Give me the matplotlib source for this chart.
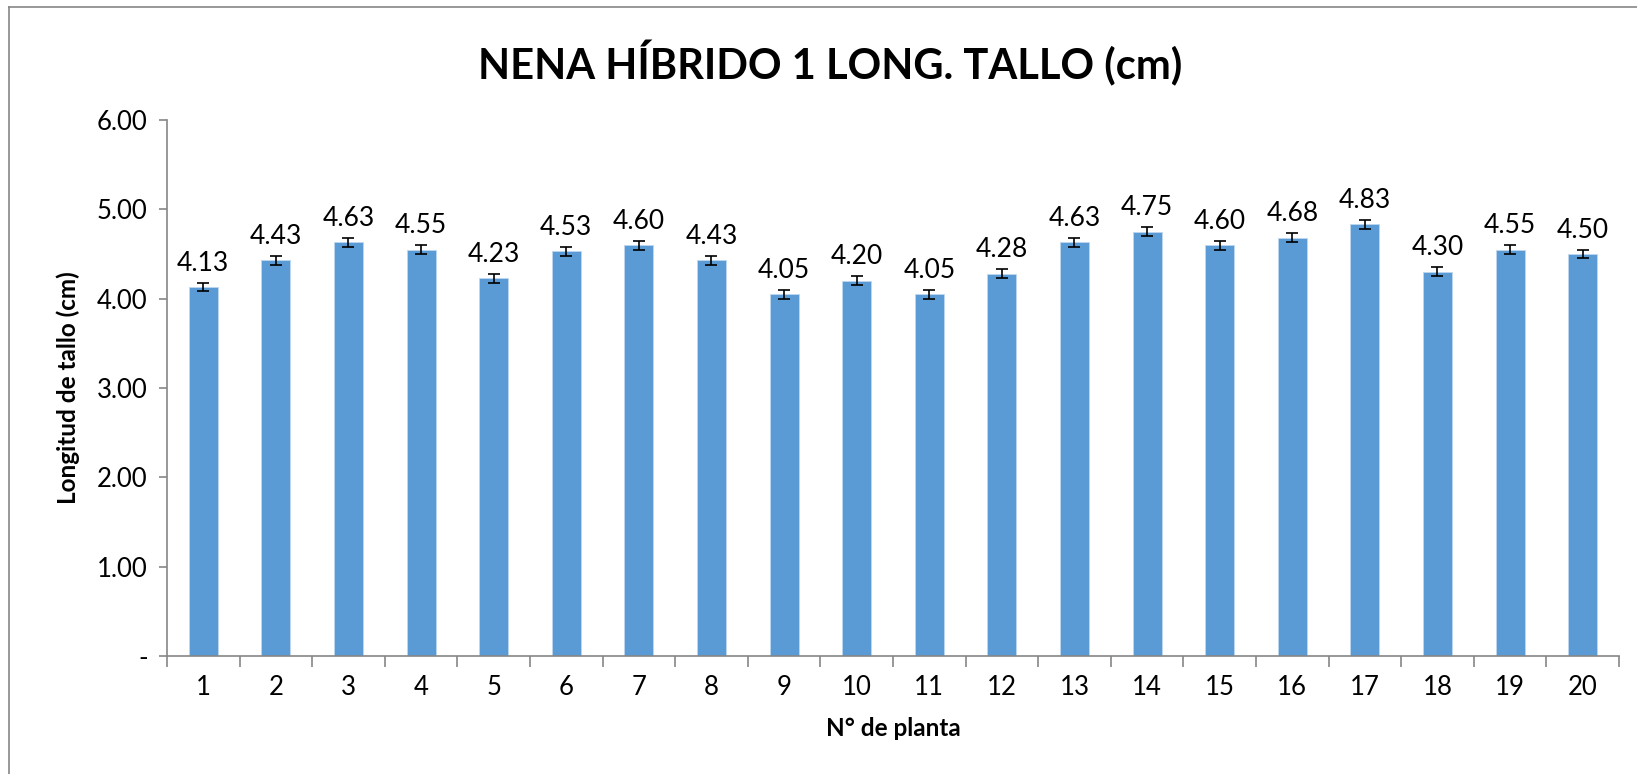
import numpy as np
import matplotlib.pyplot as plt
from matplotlib.lines import Line2D

plt.rcParams['font.family'] = ['Lato', 'DejaVu Sans']

plantas = [str(i) for i in range(1, 21)]
longitud = [4.13, 4.43, 4.63, 4.55, 4.23, 4.53, 4.60, 4.43, 4.05, 4.20,
            4.05, 4.28, 4.63, 4.75, 4.60, 4.68, 4.83, 4.30, 4.55, 4.50]
error = [0.05] * 20
yticks = [0, 1, 2, 3, 4, 5, 6]
ytick_labels = ['-', '1.00', '2.00', '3.00', '4.00', '5.00', '6.00']

fig = plt.figure(figsize=(16.37, 7.74), dpi=100)
ax = fig.add_axes([0.102, 0.1525, 0.887, 0.6925])

x = np.arange(len(plantas))
ax.bar(x, longitud, width=0.4, color='#5B9BD5', edgecolor='#BDD7EE', linewidth=0.6, zorder=2)
ax.errorbar(x, longitud, yerr=error, fmt='none', ecolor='black', elinewidth=1.2,
            capsize=4.3, capthick=1.2, zorder=3)
for xi, v, e in zip(x, longitud, error):
    ax.annotate(f'{v:.2f}', (xi, v + e), xytext=(0, 5), textcoords='offset points',
                ha='center', va='bottom', fontsize=19, color='black')

ax.set_xlim(-0.5, len(plantas) - 0.5)
ax.set_ylim(0, 6)
ax.set_yticks(yticks)
ax.set_yticklabels(ytick_labels, fontsize=18.5)
ax.set_xticks(x)
ax.set_xticklabels(plantas, fontsize=18.5)
ax.set_xticks(np.arange(len(plantas) + 1) - 0.5, minor=True)
ax.tick_params(axis='x', which='major', length=0, pad=14)
ax.tick_params(axis='x', which='minor', length=8, color='#868686', width=1.2)
ax.tick_params(axis='y', length=6, color='#868686', width=1.2, pad=8)

for s in ['top', 'right']:
    ax.spines[s].set_visible(False)
for s in ['left', 'bottom']:
    ax.spines[s].set_color('#868686')
    ax.spines[s].set_linewidth(1.2)

ax.set_xlabel('N° de planta', fontsize=17.5, fontweight='bold', labelpad=12)
ax.set_ylabel('Longitud de tallo (cm)', fontsize=17.5, fontweight='bold', labelpad=12)
fig.text(0.507, 0.918, 'NENA HÍBRIDO 1 LONG. TALLO (cm)', ha='center', va='center',
         fontsize=30, fontweight='bold')

# borde del grafico
fig.add_artist(Line2D([0.0055, 0.0055], [0, 0.991], color='#868686', lw=1.2))
fig.add_artist(Line2D([0.0055, 1], [0.991, 0.991], color='#868686', lw=1.2))

plt.savefig('out.png', dpi=100)
